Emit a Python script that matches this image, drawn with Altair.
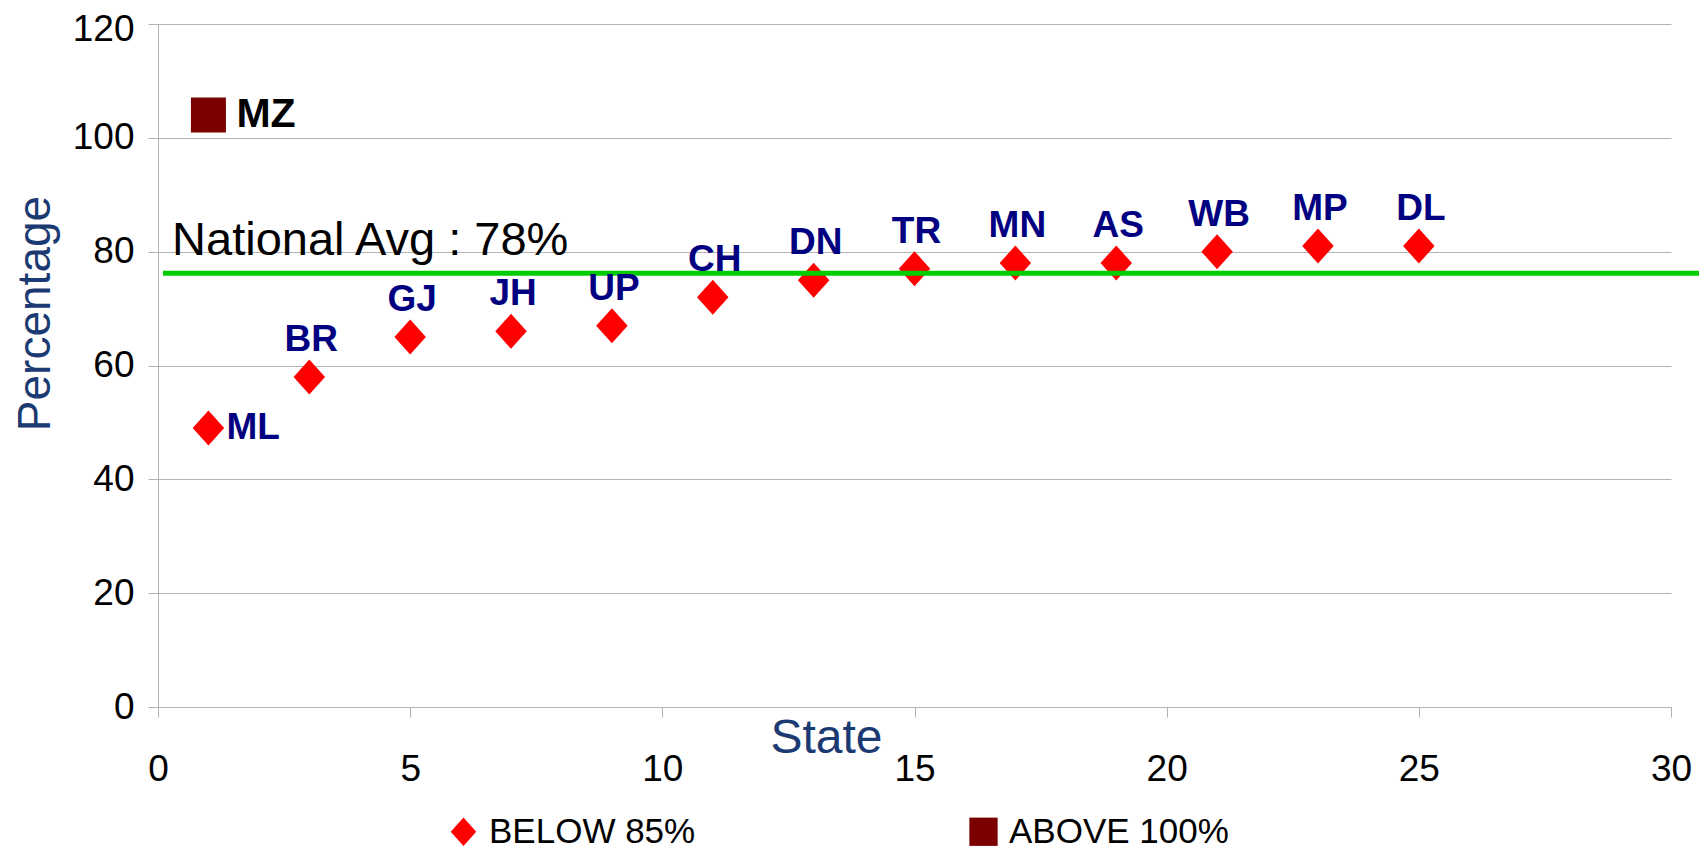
import altair as alt
import pandas as pd

# ---- data ----
states = ["ML", "BR", "GJ", "JH", "UP", "CH", "DN", "TR", "MN", "AS", "WB", "MP", "DL"]
state_x = [1, 3, 5, 7, 9, 11, 13, 15, 17, 19, 21, 23, 25]
pct = [49, 58, 65, 66, 67, 72, 75, 77, 78, 78, 80, 81, 81]

above_states = ["MZ"]
above_x = [1]
above_pct = [104]

categories = ["BELOW 85%", "ABOVE 100%"]
cat_colors = ["#ff0000", "#7b0000"]

avg_level = [76.2]
avg_span = [0.1, 31.5]
avg_text = ["National Avg : 78%"]
avg_text_x = [0.28]
avg_text_y = [79.4]

x_ticks = [0, 5, 10, 15, 20, 25, 30]
y_ticks = [0, 20, 40, 60, 80, 100, 120]

FONT = "Liberation Sans, Arial, sans-serif"
NAVY_TITLE = "#1c3a72"
LABEL_NAVY = "#000080"
GRID = "#b3b3b3"

df = pd.DataFrame({
    "state": states + above_states,
    "x": state_x + above_x,
    "y": pct + above_pct,
    "cat": [categories[0]] * len(states) + [categories[1]] * len(above_states),
})
avg_df = pd.DataFrame({"x": [avg_span[0]], "x2": [avg_span[1]], "y": avg_level})
avg_lbl_df = pd.DataFrame({"x": avg_text_x, "y": avg_text_y, "t": avg_text})

diamond = "M0,-1L0.9,0L0,1L-0.9,0Z"

legend = alt.Legend(
    title=None, orient="none", legendX=288, legendY=790, direction="horizontal",
    columnPadding=270, labelFontSize=35, labelFont=FONT, labelColor="black",
    labelLimit=600, symbolSize=800, symbolStrokeWidth=0, labelOffset=8,
)

x_enc = alt.X("x:Q", scale=alt.Scale(domain=[0, 30], nice=False),
              axis=alt.Axis(values=x_ticks, grid=False, domainColor=GRID, tickColor=GRID,
                            tickSize=10, labelFontSize=37, labelFont=FONT, labelColor="black",
                            labelPadding=34, labelFlush=False, title="State",
                            titleFontSize=48, titleFont=FONT, titleColor=NAVY_TITLE,
                            titleFontWeight="normal", titleX=668, titleY=31,
                            titleBaseline="middle", titleAlign="center"))
y_enc = alt.Y("y:Q", scale=alt.Scale(domain=[0, 120], nice=False),
              axis=alt.Axis(values=y_ticks, grid=True, gridColor=GRID, domainColor=GRID,
                            tickColor=GRID, tickSize=10, labelFontSize=37, labelFont=FONT,
                            labelColor="black", labelPadding=14,
                            labelOffset={"condition": {"test": "datum.value == 120", "value": 5}, "value": 0},
                            title="Percentage",
                            titleAngle=270, titleX=-123, titleY=289, titleFontSize=46,
                            titleFont=FONT, titleColor=NAVY_TITLE, titleFontWeight="normal",
                            titleBaseline="middle", titleAlign="center"))

points = alt.Chart(df).mark_point(filled=True, opacity=1).encode(
    x=x_enc,
    y=y_enc,
    shape=alt.Shape("cat:N", scale=alt.Scale(domain=categories, range=[diamond, "square"]), legend=legend),
    color=alt.Color("cat:N", scale=alt.Scale(domain=categories, range=cat_colors), legend=legend),
    size=alt.value(1225),
)

labels_top = alt.Chart(df).transform_filter(
    (alt.datum.cat == categories[0]) & (alt.datum.state != "ML")
).mark_text(font=FONT, fontWeight="bold", fontSize=37, color=LABEL_NAVY, dy=-37, dx=2,
            baseline="middle", align="center").encode(x="x:Q", y="y:Q", text="state:N")

labels_right = alt.Chart(df).transform_filter(
    alt.datum.state == "ML"
).mark_text(font=FONT, fontWeight="bold", fontSize=37, color=LABEL_NAVY, dx=18,
            baseline="middle", align="left").encode(x="x:Q", y="y:Q", text="state:N")

labels_above = alt.Chart(df).transform_filter(
    alt.datum.cat == categories[1]
).mark_text(font=FONT, fontWeight="bold", fontSize=41, color="black", dx=28,
            baseline="middle", align="left").encode(x="x:Q", y="y:Q", text="state:N")

rule = alt.Chart(avg_df).mark_rule(color="#00cc00", strokeWidth=5, clip=False).encode(
    x="x:Q", x2="x2:Q", y="y:Q")

avg_label = alt.Chart(avg_lbl_df).mark_text(font=FONT, fontSize=47, color="black",
                                            align="left", baseline="alphabetic").encode(
    x="x:Q", y="y:Q", text="t:N")

chart = alt.layer(points, rule, labels_top, labels_right, labels_above, avg_label).properties(
    width=1513, height=683,
    padding={"left": 150, "top": 16, "right": 28, "bottom": 147},
    autosize=alt.AutoSizeParams(type="none"),
).configure_view(strokeWidth=0)

chart.save("out.html", embed_options={"renderer": "svg", "actions": False})
